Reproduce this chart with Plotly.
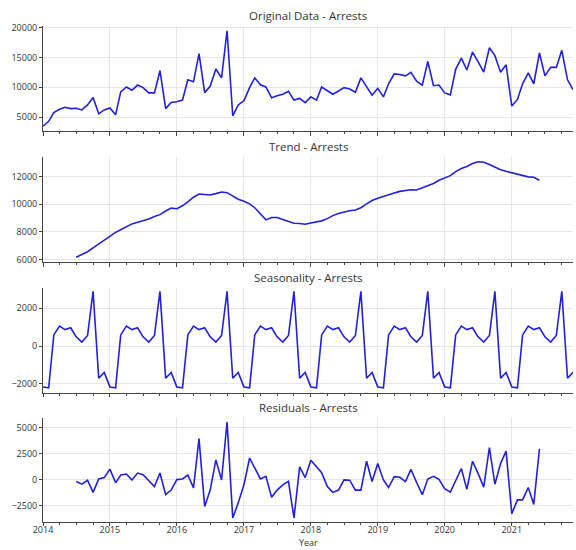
import pandas as pd
import plotly.graph_objects as go

# Monthly arrests, Jan 2014 - Dec 2021
dates = pd.date_range("2014-01-01", periods=96, freq="MS")

arrests = [
    3470, 4290, 5770, 6310, 6640, 6420, 6480, 6200, 7030, 8280, 5550, 6200,      # 2014
    6530, 5380, 9210, 10040, 9490, 10360, 9930, 9050, 9050, 12770, 6420, 7460,   # 2015
    7570, 7850, 11240, 10910, 15620, 9100, 10150, 13050, 11570, 19450, 5220, 7030,  # 2016
    7740, 9930, 11570, 10420, 10040, 8230, 8560, 8830, 9320, 7850, 8120, 7410,   # 2017
    8390, 7850, 10040, 9380, 8830, 9380, 9930, 9710, 9160, 11570, 10040, 8670,   # 2018
    9820, 8390, 10580, 12220, 12120, 11900, 12500, 11020, 10360, 14300, 10250, 10360,  # 2019
    9050, 8720, 13000, 14860, 12880, 15890, 14300, 12520, 16600, 15290, 12500, 13760,  # 2020
    6860, 7960, 10580, 12390, 10580, 15730, 11900, 13320, 13320, 16170, 11240, 9600,  # 2021
]

# Centred 12-month trend: defined Jul 2014 - Jun 2021
trend_dates = dates[6:90]
trend = [
    6170, 6360, 6570, 6850, 7140, 7420,
    7730, 7970, 8160, 8370, 8580, 8700, 8800, 8940, 9110, 9250, 9510, 9720,
    9680, 9890, 10170, 10510, 10740, 10700, 10670, 10770, 10890, 10840, 10600, 10360,
    10220, 10030, 9750, 9270, 8870, 9040, 9040, 8890, 8730, 8630, 8610, 8560,
    8650, 8750, 8800, 8960, 9180, 9340, 9460, 9530, 9580, 9750, 10030, 10270,
    10430, 10580, 10670, 10810, 10930, 11000, 11050, 11030, 11170, 11340, 11500, 11740,
    11930, 12070, 12360, 12590, 12730, 12950, 13070, 13040, 12880, 12690, 12500, 12380,
    12280, 12190, 12070, 11980, 11950, 11740,
]

# Seasonal component: identical profile every year (Jan..Dec)
seasonal_profile = [-2160, -2210, 590, 1060, 870, 970, 490, 210, 560, 2890, -1700, -1390]
seasonal = seasonal_profile * 8

residual_dates = dates[6:90]
residuals = [
    -160, -410, -30, -1200, 90, 220,
    1040, -280, 470, 570, 0, 660, 500, -90, -630, 660, -1420, -980,
    30, 90, 470, -760, 3970, -2550, -980, 1920, 0, 5580, -3660, -2210,
    -470, 2110, 1100, 90, 350, -1670, -980, -470, -130, -3660, 1260, 220,
    1890, 1260, 690, -630, -1200, -980, 0, -30, -980, -980, 1800, -160,
    1580, 0, -730, 320, 250, -160, 1010, -250, -1420, 90, 350, 60,
    -850, -1170, -90, 1100, -910, 1800, 630, -690, 3120, -410, 1580, 2770,
    -3250, -1920, -1920, -730, -2360, 3000,
]

titles = ["Original Data - Arrests", "Trend - Arrests",
          "Seasonality - Arrests", "Residuals - Arrests"]
y_ticks = [[5000, 10000, 15000, 20000], [6000, 8000, 10000, 12000],
           [-2000, 0, 2000], [-2500, 0, 2500, 5000]]
y_ranges = [[2650, 20300], [5810, 13400], [-2470, 3080], [-4040, 5970]]

H = 550.0
# panel (top, bottom) in pixels from the top of the page
panel_px = [(21, 128), (154.5, 261), (287, 393.5), (419, 524.5)]
domains = [[1 - b / H, 1 - t / H] for t, b in panel_px]

series = [(dates, arrests), (trend_dates, trend), (dates, seasonal), (residual_dates, residuals)]

fig = go.Figure()
line_color = "#1f1fe6"
axis_color = "#444444"
grid_color = "#e6e6e6"
font_family = "Open Sans"

layout = dict(
    width=576, height=550,
    margin=dict(l=43, r=3, t=0, b=0),
    paper_bgcolor="white", plot_bgcolor="white",
    showlegend=False,
    font=dict(family=font_family, size=9, color="#333333"),
)

annotations = []
for i, ((x, y), title, yt, yr, dom) in enumerate(zip(series, titles, y_ticks, y_ranges, domains)):
    n = "" if i == 0 else str(i + 1)
    fig.add_trace(go.Scatter(
        x=x, y=y, mode="lines",
        line=dict(color=line_color, width=1.6),
        xaxis="x" + n, yaxis="y" + n,
    ))
    last = i == 3
    layout["xaxis" + n] = dict(
        anchor="y" + n, domain=[0, 1],
        range=["2014-01-01", "2021-12-01"],
        type="date", dtick="M12", tick0="2014-01-01",
        tickformat="%Y", showticklabels=last,
        ticks="outside", ticklen=3.5, tickwidth=1, tickcolor=axis_color,
        ticklabelstandoff=-4,
        minor=dict(dtick="M3", ticks="outside", ticklen=2, tickwidth=1,
                   tickcolor=axis_color, showgrid=False),
        showgrid=True, gridcolor=grid_color, gridwidth=1,
        showline=True, linecolor=axis_color, linewidth=1,
        zeroline=False,
        tickfont=dict(size=9, color="#333333"),
    )
    layout["yaxis" + n] = dict(
        anchor="x" + n, domain=dom, range=yr,
        tickmode="array", tickvals=yt, tickformat="d",
        ticks="outside", ticklen=3, tickwidth=1, tickcolor=axis_color,
        showgrid=True, gridcolor=grid_color, gridwidth=1,
        showline=True, linecolor=axis_color, linewidth=1,
        zeroline=False,
        tickfont=dict(size=9, color="#333333"),
    )
    annotations.append(dict(
        text=title, xref="paper", yref="paper", x=0.5, y=dom[1],
        xanchor="center", yanchor="bottom", yshift=1, showarrow=False,
        font=dict(family=font_family, size=11.5, color="#333333"),
    ))

# x-axis label under the bottom panel
annotations.append(dict(
    text="Year", xref="paper", yref="paper", x=0.5, y=0,
    xanchor="center", yanchor="bottom", yshift=-3, borderpad=0, showarrow=False,
    font=dict(family=font_family, size=9, color="#333333"),
))

layout["annotations"] = annotations
fig.update_layout(**layout)
fig.write_html("out.html")
